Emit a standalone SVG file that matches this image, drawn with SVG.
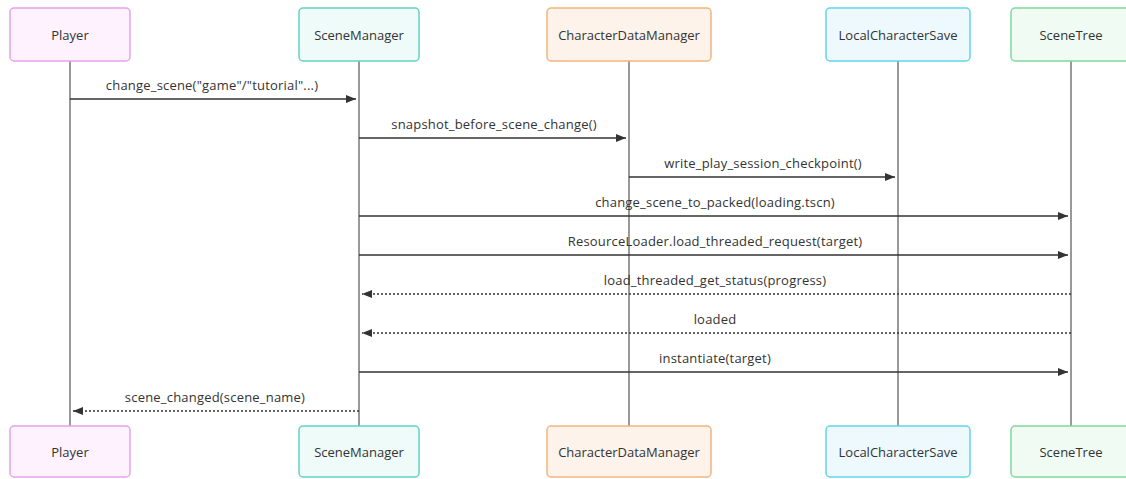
<svg xmlns="http://www.w3.org/2000/svg" width="1126" height="479" viewBox="0 0 1126 479">
  <defs>
    <style>
      .actor rect { stroke-width: 1.5; }
      .actor text { font-family: "Open Sans", "Liberation Sans", Arial, sans-serif; font-size: 13px; fill: #333; text-anchor: middle; dominant-baseline: central; }
      .life { stroke: #555; stroke-width: 1.2; }
      .msg { stroke: #333; stroke-width: 1.4; fill: none; }
      .ret { stroke: #333; stroke-width: 1.4; fill: none; stroke-dasharray: 2 2; }
      .lbl { font-family: "Open Sans", "Liberation Sans", Arial, sans-serif; font-size: 13px; letter-spacing: 0.2px; fill: #333; text-anchor: middle; }
      .player rect { fill: #fdf2fd; stroke: #e6a3ea; }
      .scenemgr rect { fill: #eefbf8; stroke: #62d4c2; }
      .cdm rect { fill: #fdf3ea; stroke: #f1b57f; }
      .lcs rect { fill: #eef9fd; stroke: #62d6ea; }
      .tree rect { fill: #f0fbf3; stroke: #80da9c; }
    </style>
    <marker id="head" viewBox="0 0 10 10" refX="10" refY="5" markerWidth="10" markerHeight="10" markerUnits="userSpaceOnUse" orient="auto-start-reverse">
      <path d="M0,1 L10,5 L0,9 Z" fill="#333"/>
    </marker>
  </defs>
  <rect width="1126" height="479" fill="#ffffff"/>

  <!-- lifelines -->
  <g id="lifelines">
    <line class="life" x1="70" y1="61" x2="70" y2="426"/>
    <line class="life" x1="359" y1="61" x2="359" y2="426"/>
    <line class="life" x1="629" y1="61" x2="629" y2="426"/>
    <line class="life" x1="898" y1="61" x2="898" y2="426"/>
    <line class="life" x1="1071" y1="61" x2="1071" y2="426"/>
  </g>

  <!-- participants, top row -->
  <g id="player-top" class="actor player">
    <rect x="10" y="8" width="120" height="53" rx="4"/>
    <text x="70" y="35">Player</text>
  </g>
  <g id="scenemanager-top" class="actor scenemgr">
    <rect x="299" y="8" width="120" height="53" rx="4"/>
    <text x="359" y="35">SceneManager</text>
  </g>
  <g id="characterdatamanager-top" class="actor cdm">
    <rect x="547" y="8" width="164" height="53" rx="4"/>
    <text x="629" y="35">CharacterDataManager</text>
  </g>
  <g id="localcharactersave-top" class="actor lcs">
    <rect x="826" y="8" width="144" height="53" rx="4"/>
    <text x="898" y="35">LocalCharacterSave</text>
  </g>
  <g id="scenetree-top" class="actor tree">
    <rect x="1011" y="8" width="120" height="53" rx="4"/>
    <text x="1071" y="35">SceneTree</text>
  </g>

  <!-- participants, bottom row -->
  <g id="player-bottom" class="actor player">
    <rect x="10" y="426" width="120" height="51" rx="4"/>
    <text x="70" y="452">Player</text>
  </g>
  <g id="scenemanager-bottom" class="actor scenemgr">
    <rect x="299" y="426" width="120" height="51" rx="4"/>
    <text x="359" y="452">SceneManager</text>
  </g>
  <g id="characterdatamanager-bottom" class="actor cdm">
    <rect x="547" y="426" width="164" height="51" rx="4"/>
    <text x="629" y="452">CharacterDataManager</text>
  </g>
  <g id="localcharactersave-bottom" class="actor lcs">
    <rect x="826" y="426" width="144" height="51" rx="4"/>
    <text x="898" y="452">LocalCharacterSave</text>
  </g>
  <g id="scenetree-bottom" class="actor tree">
    <rect x="1011" y="426" width="120" height="51" rx="4"/>
    <text x="1071" y="452">SceneTree</text>
  </g>

  <!-- messages -->
  <g id="messages">
    <text class="lbl" x="212" y="90">change_scene("game"/"tutorial"...)</text>
    <line class="msg" x1="70" y1="99" x2="356" y2="99" marker-end="url(#head)"/>

    <text class="lbl" x="494" y="129">snapshot_before_scene_change()</text>
    <line class="msg" x1="359" y1="138" x2="626" y2="138" marker-end="url(#head)"/>

    <text class="lbl" x="763" y="168">write_play_session_checkpoint()</text>
    <line class="msg" x1="629" y1="177" x2="895" y2="177" marker-end="url(#head)"/>

    <text class="lbl" x="715" y="207">change_scene_to_packed(loading.tscn)</text>
    <line class="msg" x1="359" y1="216" x2="1068" y2="216" marker-end="url(#head)"/>

    <text class="lbl" x="715" y="246">ResourceLoader.load_threaded_request(target)</text>
    <line class="msg" x1="359" y1="255" x2="1068" y2="255" marker-end="url(#head)"/>

    <text class="lbl" x="715" y="285">load_threaded_get_status(progress)</text>
    <line class="ret" x1="1071" y1="294" x2="362" y2="294" marker-end="url(#head)"/>

    <text class="lbl" x="715" y="324">loaded</text>
    <line class="ret" x1="1071" y1="333" x2="362" y2="333" marker-end="url(#head)"/>

    <text class="lbl" x="715" y="363">instantiate(target)</text>
    <line class="msg" x1="359" y1="372" x2="1068" y2="372" marker-end="url(#head)"/>

    <text class="lbl" x="215" y="402">scene_changed(scene_name)</text>
    <line class="ret" x1="359" y1="411" x2="73" y2="411" marker-end="url(#head)"/>
  </g>
</svg>
